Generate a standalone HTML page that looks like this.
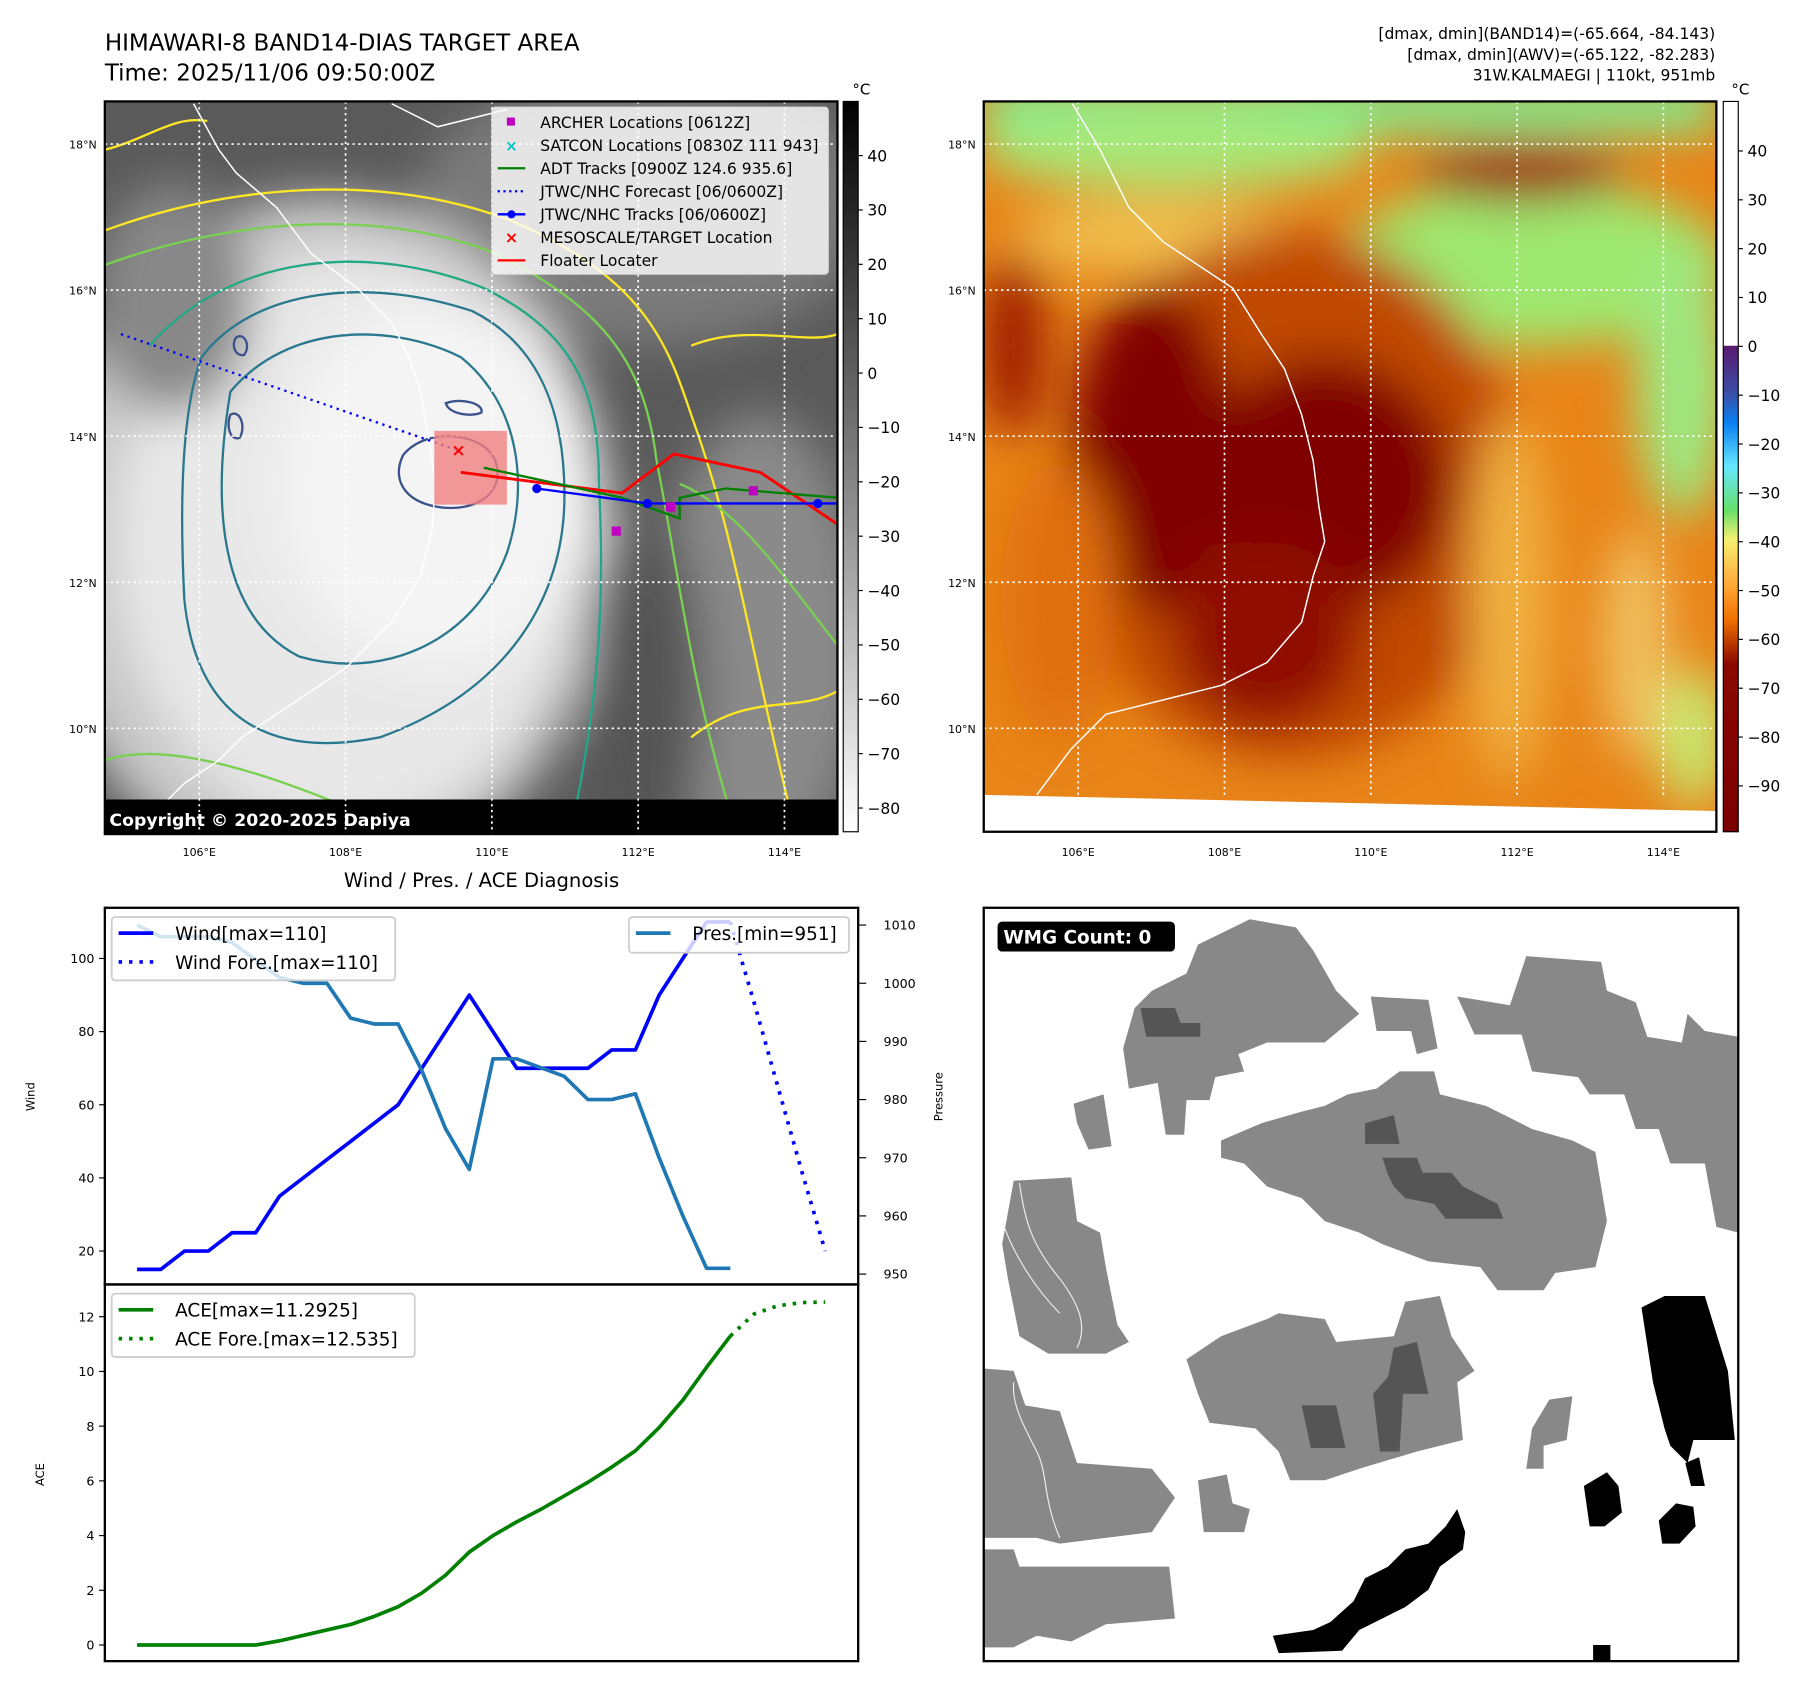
<!DOCTYPE html>
<html><head><meta charset="utf-8"><title>HIMAWARI-8 Band14 DIAS target area, 31W Kalmaegi, 2025/11/06 09:50Z</title>
<style>
html,body{margin:0;padding:0;background:#fff;}
svg{display:block;font-family:"DejaVu Sans","Liberation Sans",sans-serif;}
</style></head>
<body>
<svg id="root" width="1797" height="1690" viewBox="0 0 1560 1467" xmlns="http://www.w3.org/2000/svg">
<defs>
 <filter id="blur8" x="-20%" y="-20%" width="140%" height="140%"><feGaussianBlur stdDeviation="8"/></filter>
 <filter id="blur20" x="-30%" y="-30%" width="160%" height="160%"><feGaussianBlur stdDeviation="20"/></filter>
 <clipPath id="clipL"><rect x="91" y="88" width="636" height="636"/></clipPath>
 <clipPath id="clipR"><rect x="854" y="88" width="636" height="634"/></clipPath>
 <clipPath id="clipW"><rect x="854" y="788" width="655" height="654"/></clipPath>
 <linearGradient id="cbL" x1="0" y1="0" x2="0" y2="1">
  <stop offset="0" stop-color="#000"/><stop offset="1" stop-color="#fff"/>
 </linearGradient>
 <linearGradient id="cbR" x1="0" y1="0" x2="0" y2="1">
  <stop offset="0" stop-color="#fff"/><stop offset="0.334" stop-color="#fff"/>
  <stop offset="0.335" stop-color="#5a1a6e"/><stop offset="0.40" stop-color="#3a4fa8"/>
  <stop offset="0.44" stop-color="#0a80f0"/><stop offset="0.50" stop-color="#66e8ff"/>
  <stop offset="0.56" stop-color="#66e06a"/><stop offset="0.60" stop-color="#f6f070"/>
  <stop offset="0.66" stop-color="#ffab3a"/><stop offset="0.71" stop-color="#f07000"/>
  <stop offset="0.77" stop-color="#8a0800"/><stop offset="1" stop-color="#7a0000"/>
 </linearGradient>
</defs>

<!-- Titles -->
<text x="91" y="44" font-size="20">HIMAWARI-8 BAND14-DIAS TARGET AREA</text>
<text x="91" y="70" font-size="20">Time: 2025/11/06 09:50:00Z</text>
<g font-size="13.5" text-anchor="end">
 <text x="1489" y="34">[dmax, dmin](BAND14)=(-65.664, -84.143)</text>
 <text x="1489" y="52">[dmax, dmin](AWV)=(-65.122, -82.283)</text>
 <text x="1489" y="70">31W.KALMAEGI | 110kt, 951mb</text>
</g>

<!-- LEFT MAP -->
<g clip-path="url(#clipL)">
 <rect x="91" y="88" width="636" height="636" fill="#5a5a5a"/>
 <g filter="url(#blur20)">
  <ellipse cx="560" cy="180" rx="200" ry="120" fill="#7a7a7a"/>
  <ellipse cx="280" cy="470" rx="250" ry="300" fill="#c8c8c8"/>
  <ellipse cx="300" cy="470" rx="200" ry="250" fill="#e8e8e8"/>
  <ellipse cx="380" cy="420" rx="140" ry="160" fill="#f4f4f4"/>
  <ellipse cx="660" cy="560" rx="90" ry="200" fill="#8a8a8a"/>
  <ellipse cx="560" cy="600" rx="50" ry="160" fill="#555"/>
  <ellipse cx="150" cy="260" rx="70" ry="100" fill="#888"/>
 </g>
 <g fill="none" stroke-width="2">
  <path d="M91 200 C200 160 330 150 440 190 C560 240 580 300 600 360 C640 470 650 560 690 720" stroke="#fde725"/>
  <path d="M91 230 C200 190 330 180 430 220 C530 270 560 320 570 400 C590 500 600 600 640 724" stroke="#7ad151"/>
  <path d="M130 300 C200 220 320 210 420 250 C500 290 520 340 520 420 C525 520 520 600 500 700" stroke="#22a884"/>
  <path d="M175 310 C220 250 320 240 410 270 C470 300 490 360 490 430 C490 520 440 600 330 640 C230 660 170 620 160 520 C155 420 160 350 175 310 Z" stroke="#2a788e"/>
  <path d="M200 340 C250 280 340 280 400 310 C450 350 460 420 440 480 C410 560 330 590 260 570 C200 540 180 460 200 340 Z" stroke="#2a788e"/>
  <path d="M350 395 C370 370 420 375 430 400 C440 430 410 445 380 440 C350 435 340 415 350 395 Z" stroke="#3b528b"/>
  <path d="M387 350 C400 345 420 350 418 358 C410 362 390 360 387 350 Z" stroke="#3b528b"/>
  <path d="M205 293 C212 288 218 300 212 308 C205 310 200 300 205 293 Z" stroke="#3b528b"/>
  <path d="M200 360 C208 355 214 370 208 380 C200 383 196 370 200 360 Z" stroke="#3b528b"/>
  <path d="M91 130 C130 120 150 100 180 105" stroke="#fde725"/>
  <path d="M600 300 C650 280 700 300 727 290" stroke="#fde725"/>
  <path d="M590 420 C640 440 680 500 727 560" stroke="#7ad151"/>
  <path d="M600 640 C650 600 690 620 727 600" stroke="#fde725"/>
  <path d="M91 660 C150 640 250 680 300 700" stroke="#7ad151"/>
 </g>
 <g fill="none" stroke="#fff" stroke-width="1.3">
  <path d="M168 90 L190 130 L205 150 L240 180 L270 220 L310 250 L340 280 L355 310 L365 340 L372 380 L378 420 L375 460 L365 500 L340 540 L320 560 L300 580 L270 600 L240 620 L210 640 L190 660 L160 680 L140 700"/>
  <path d="M340 90 L380 110 L420 100 L440 95"/>
 </g>
 <rect x="91" y="694" width="636" height="30" fill="#000"/>
</g>
<text x="95" y="717" font-size="15" font-weight="bold" fill="#fff">Copyright © 2020-2025 Dapiya</text>
<g id="gridL"></g>
<!-- tracks -->
<g>
 <path d="M105 290 L395 390" stroke="#0000ff" stroke-width="2" stroke-dasharray="2,4" fill="none"/>
 <rect x="377" y="374" width="63" height="64" fill="#f08080" opacity="0.8"/>
 <path d="M400 410 L540 428 L585 394 L660 410 L727 455" stroke="#ff0000" stroke-width="2.5" fill="none"/>
 <path d="M420 406 L540 432 L590 450 L590 432 L630 424 L727 432" stroke="#008000" stroke-width="2" fill="none"/>
 <path d="M466 424 L562 437 L727 437" stroke="#0000ff" stroke-width="2" fill="none"/>
 <circle cx="466" cy="424" r="4" fill="#0000ff"/><circle cx="562" cy="437" r="4" fill="#0000ff"/><circle cx="710" cy="437" r="4" fill="#0000ff"/>
 <rect x="531" y="457" width="8" height="8" fill="#c000c0"/><rect x="578" y="436" width="8" height="8" fill="#c000c0"/><rect x="650" y="422" width="8" height="8" fill="#c000c0"/>
 <text x="398" y="396" font-size="15" fill="#ff0000" text-anchor="middle" font-weight="bold">×</text>
</g>
<!-- legend -->
<g font-size="13.5">
 <rect x="427" y="93" width="292" height="145" rx="3" fill="#fff" fill-opacity="0.8" stroke="#ddd"/>
 <rect x="440" y="102" width="7" height="7" fill="#c000c0"/><text x="469" y="111">ARCHER Locations [0612Z]</text>
 <text x="444" y="131" fill="#00bfbf" font-weight="bold" text-anchor="middle" font-size="13">×</text><text x="469" y="131">SATCON Locations [0830Z 111 943]</text>
 <line x1="432" y1="146" x2="456" y2="146" stroke="#008000" stroke-width="2"/><text x="469" y="151">ADT Tracks [0900Z 124.6 935.6]</text>
 <line x1="432" y1="166" x2="456" y2="166" stroke="#0000ff" stroke-width="2" stroke-dasharray="2,3"/><text x="469" y="171">JTWC/NHC Forecast [06/0600Z]</text>
 <line x1="432" y1="186" x2="456" y2="186" stroke="#0000ff" stroke-width="2"/><circle cx="444" cy="186" r="3.5" fill="#0000ff"/><text x="469" y="191">JTWC/NHC Tracks [06/0600Z]</text>
 <text x="444" y="211" fill="#ff0000" font-weight="bold" text-anchor="middle" font-size="14">×</text><text x="469" y="211">MESOSCALE/TARGET Location</text>
 <line x1="432" y1="226" x2="456" y2="226" stroke="#ff0000" stroke-width="2"/><text x="469" y="231">Floater Locater</text>
</g>
<rect x="91" y="88" width="636" height="636" fill="none" stroke="#000" stroke-width="2"/>
<!-- left colorbar -->
<rect x="732" y="88" width="13" height="634" fill="url(#cbL)" stroke="#000" stroke-width="1"/>
<text x="740" y="82" font-size="13">°C</text>
<g id="cbLticks" font-size="13.5"></g>

<!-- RIGHT MAP -->
<g clip-path="url(#clipR)">
 <rect x="854" y="88" width="636" height="634" fill="#e88418"/>
 <g filter="url(#blur20)">
  <rect x="854" y="70" width="636" height="45" fill="#80ec90"/>
  <ellipse cx="1020" cy="130" rx="170" ry="35" fill="#a8e878"/>
  <ellipse cx="1330" cy="230" rx="170" ry="70" fill="#9ee870"/>
  <ellipse cx="1460" cy="330" rx="40" ry="120" fill="#9ee880"/>
  <ellipse cx="1470" cy="640" rx="30" ry="60" fill="#c8e870"/>
  <ellipse cx="1000" cy="205" rx="120" ry="30" fill="#f0c050"/>
  <ellipse cx="1320" cy="150" rx="90" ry="25" fill="#9a1800"/>
  <ellipse cx="1120" cy="430" rx="200" ry="230" fill="#c04800"/>
  <ellipse cx="1000" cy="390" rx="70" ry="140" fill="#800000"/>
  <ellipse cx="1150" cy="420" rx="110" ry="110" fill="#800000"/>
  <ellipse cx="1100" cy="550" rx="80" ry="80" fill="#900800"/>
  <ellipse cx="880" cy="300" rx="30" ry="80" fill="#a02000"/>
  <ellipse cx="1310" cy="520" rx="35" ry="160" fill="#f0b040"/>
  <ellipse cx="1420" cy="560" rx="30" ry="100" fill="#f0c060"/>
  <ellipse cx="920" cy="520" rx="50" ry="120" fill="#e07010"/>
 </g>
 <polygon points="854,690 1490,704 1490,722 854,722" fill="#fff"/>
 <g fill="none" stroke="#fff" stroke-width="1.3">
  <path d="M931 90 L955 130 L980 180 L1010 210 L1040 230 L1070 250 L1095 290 L1115 320 L1130 360 L1140 400 L1145 440 L1150 470 L1140 500 L1130 540 L1100 575 L1060 595 L1000 610 L960 620 L930 650 L900 690"/>
 </g>
</g>
<g id="gridR"></g>
<rect x="854" y="88" width="636" height="634" fill="none" stroke="#000" stroke-width="2"/>
<rect x="1496" y="88" width="13" height="634" fill="url(#cbR)" stroke="#000" stroke-width="1"/>
<text x="1503" y="82" font-size="13">°C</text>
<g id="cbRticks" font-size="13.5"></g>
<g id="geoLabels" font-size="9.5"></g>

<!-- DIAGNOSIS CHART -->
<text x="418" y="770" font-size="17" text-anchor="middle">Wind / Pres. / ACE Diagnosis</text>
<g id="chart"></g>
<text transform="translate(30,952) rotate(-90)" font-size="10" text-anchor="middle">Wind</text>
<text transform="translate(818,952) rotate(-90)" font-size="10" text-anchor="middle">Pressure</text>
<text transform="translate(38,1280) rotate(-90)" font-size="10" text-anchor="middle">ACE</text>

<!-- WMG PANEL -->
<g clip-path="url(#clipW)">
 <rect x="854" y="788" width="655" height="654" fill="#fff"/>
 <g fill="#888">
  <polygon points="1040,820 1085,798 1125,805 1140,825 1160,860 1180,880 1150,905 1100,905 1075,915 1080,930 1055,935 1050,955 1030,955 1028,985 1012,985 1005,940 980,945 975,910 985,875 1000,860 1030,845"/>
  <polygon points="1190,865 1240,868 1248,910 1230,915 1225,895 1195,895"/>
  <polygon points="1265,865 1325,875 1330,898 1280,898"/>
  <polygon points="1325,830 1390,835 1395,860 1420,870 1430,900 1460,905 1465,880 1480,895 1509,900 1509,1070 1490,1065 1480,1010 1450,1010 1440,980 1420,980 1410,950 1380,950 1370,935 1330,930 1320,895 1310,875"/>
  <polygon points="1060,990 1095,975 1130,965 1150,960 1170,950 1195,945 1215,930 1245,930 1250,950 1290,960 1330,980 1365,990 1385,1000 1395,1060 1385,1100 1350,1105 1340,1120 1300,1120 1285,1100 1240,1095 1200,1080 1180,1070 1150,1060 1130,1040 1100,1030 1080,1010 1060,1005"/>
  <polygon points="932,958 958,950 965,995 945,998 935,975"/>
  <polygon points="880,1025 930,1022 935,1060 955,1070 960,1100 970,1150 980,1165 960,1175 910,1175 885,1160 875,1110 870,1080"/>
  <polygon points="1030,1180 1060,1160 1100,1145 1110,1140 1150,1145 1160,1165 1210,1160 1220,1130 1250,1125 1260,1160 1280,1190 1265,1200 1270,1250 1230,1260 1180,1275 1150,1285 1120,1285 1110,1260 1090,1240 1050,1235 1040,1210"/>
  <polygon points="854,1188 880,1190 890,1220 920,1225 935,1270 1000,1275 1020,1300 1000,1330 920,1340 900,1335 854,1335"/>
  <polygon points="1040,1285 1065,1280 1070,1305 1085,1310 1080,1330 1045,1330"/>
  <polygon points="1330,1240 1345,1215 1365,1212 1360,1250 1340,1255 1340,1275 1325,1275"/>
  <polygon points="854,1345 880,1345 885,1360 1015,1360 1020,1405 960,1410 930,1425 900,1420 880,1430 854,1430"/>
 </g>
 <g fill="#555">
  <polygon points="990,875 1020,875 1025,888 1042,888 1042,900 995,900"/>
  <polygon points="1185,975 1210,968 1215,993 1185,993"/>
  <polygon points="1200,1005 1230,1005 1235,1018 1260,1018 1270,1030 1300,1045 1305,1058 1255,1058 1245,1045 1220,1040 1210,1030 1205,1020"/>
  <polygon points="1130,1220 1160,1220 1168,1257 1138,1257"/>
  <polygon points="1210,1170 1230,1165 1240,1210 1218,1210 1215,1260 1198,1260 1192,1210 1205,1195"/>
 </g>
 <g fill="#000">
  <polygon points="1425,1135 1445,1125 1480,1125 1500,1190 1506,1250 1470,1250 1465,1270 1450,1255 1445,1240 1435,1200"/>
  <polygon points="1105,1420 1140,1415 1155,1408 1175,1390 1185,1370 1205,1360 1220,1345 1240,1340 1255,1325 1265,1310 1272,1330 1270,1345 1250,1360 1240,1380 1220,1395 1200,1405 1180,1415 1165,1433 1110,1435"/>
  <polygon points="1375,1290 1395,1278 1405,1290 1408,1313 1393,1325 1380,1325"/>
  <polygon points="1440,1320 1455,1305 1470,1308 1472,1325 1458,1340 1443,1340"/>
  <polygon points="1463,1270 1475,1265 1480,1290 1468,1290"/>
  <polygon points="1383,1428 1398,1428 1398,1442 1383,1442"/>
 </g>
 <g fill="none" stroke="#eee" stroke-width="1">
  <path d="M885 1027 C890 1060 895 1080 920 1110 C935 1130 945 1150 935 1170"/>
  <path d="M870 1060 C880 1090 900 1120 920 1140"/>
  <path d="M880 1200 C878 1220 890 1240 900 1260 C910 1280 905 1300 920 1335"/>
 </g>
</g>
<rect x="854" y="788" width="655" height="654" fill="none" stroke="#000" stroke-width="2"/>
<rect x="866" y="800" width="154" height="26" rx="4" fill="#000"/>
<text x="871" y="819" font-size="16" font-weight="bold" fill="#fff">WMG Count: 0</text>

<script>
// ---- chart data ----
const windActual = [15,15,20,20,25,25,35,40,45,50,55,60,70,80,90,80,70,70,70,70,75,75,90,100,110,110];
const windForecast = [110,88,65,42,20];
const pressure = [1010,1008,1008,1008,1007,1004,1001,1000,1000,994,993,993,985,975,968,987,987,985.5,984,980,980,981,970,960,951,951];
const aceActual = [0,0,0,0,0,0,0.15,0.35,0.55,0.75,1.05,1.4,1.9,2.55,3.4,4.0,4.5,4.95,5.45,5.95,6.5,7.1,7.95,8.95,10.15,11.2925];
const aceForecast = [11.2925,12.1,12.4,12.52,12.535];
const windTicks = [20,40,60,80,100];
const presTicks = [950,960,970,980,990,1000,1010];
const aceTicks = [0,2,4,6,8,10,12];
const cbLeftTicks = [40,30,20,10,0,-10,-20,-30,-40,-50,-60,-70,-80];
const cbRightTicks = [40,30,20,10,0,-10,-20,-30,-40,-50,-60,-70,-80,-90];
const latTicks = [18,16,14,12,10];
const lonTicks = [106,108,110,112,114];

const NS = 'http://www.w3.org/2000/svg';
function mk(parent, tag, attrs){ const e=document.createElementNS(NS,tag); for(const k in attrs) e.setAttribute(k,attrs[k]); parent.appendChild(e); return e; }
// axis functions
const xIdx = i => 119 + i*20.6;
const yWind = v => 832 + (100 - v)*3.175;
const yPres = p => 803 + (1010 - p)*5.05;
const yAce = a => 1428 - a*23.75;
const yCbL = v => 135 + (40 - v)*4.72;
const yCbR = v => 131 + (40 - v)*4.24;
const yLat = d => 125 + (18 - d)*63.4;
const xLon = d => 173 + (d - 106)*63.5;

const chart = document.getElementById('chart');
let fr = mk(chart,'rect',{x:91,y:788,width:654,height:327,fill:'none',stroke:'#000','stroke-width':2});


fr = mk(chart,'rect',{x:91,y:1115,width:654,height:327,fill:'none',stroke:'#000','stroke-width':2});



function ticksLeft(vals, yf, name){
  vals.forEach(v=>{
    const y=yf(v);
    mk(chart,'line',{x1:86,y1:y,x2:91,y2:y,stroke:'#000','stroke-width':1});
    const t=mk(chart,'text',{x:82,y:y+4,'font-size':11,'text-anchor':'end'});
    t.textContent=String(v);
    
    
  });
}
ticksLeft(windTicks,yWind,'wind-tick-label');
ticksLeft(aceTicks,yAce,'ace-tick-label');
presTicks.forEach(v=>{
  const y=yPres(v);
  mk(chart,'line',{x1:745,y1:y,x2:752,y2:y,stroke:'#000','stroke-width':1});
  const t=mk(chart,'text',{x:767,y:y+4,'font-size':11});
  t.textContent=String(v);
  
  
});
function line(vals, start, xf, yf, color, dash, name){
  const pts = vals.map((v,i)=>xf(i+start).toFixed(1)+','+yf(v).toFixed(1)).join(' ');
  const a={points:pts,fill:'none',stroke:color,'stroke-width':3.2,'stroke-linejoin':'round'};
  if(dash){a['stroke-dasharray']='3,6';}
  const p=mk(chart,'polyline',a);
  
  
}
line(windActual,0,xIdx,yWind,'#0000ff',false,'wind-line');
line(windForecast,windActual.length-1,xIdx,yWind,'#0000ff',true,'wind-forecast-line');
line(pressure,0,xIdx,yPres,'#1f77b4',false,'pressure-line');
line(aceActual,0,xIdx,yAce,'#008000',false,'ace-line');
line(aceForecast,aceActual.length-1,xIdx,yAce,'#008000',true,'ace-forecast-line');

function legend(x,y,w,h,items,name){
  const g=mk(chart,'g',{});
  
  
  mk(g,'rect',{x:x,y:y,width:w,height:h,rx:3,fill:'#fff','fill-opacity':0.8,stroke:'#ccc','stroke-width':1.5});
  items.forEach((it,k)=>{
    const yy=y+14+k*25;
    const a={x1:x+6,y1:yy,x2:x+36,y2:yy,stroke:it.c,'stroke-width':3.2};
    if(it.d) a['stroke-dasharray']='3,6';
    mk(g,'line',a);
    const t=mk(g,'text',{x:x+55,y:yy+6,'font-size':16});
    t.textContent=it.t;
  });
}
legend(97,796,246,55,[{c:'#0000ff',t:'Wind[max=110]'},{c:'#0000ff',d:1,t:'Wind Fore.[max=110]'}],'wind-legend');
legend(546,796,191,31,[{c:'#1f77b4',t:'Pres.[min=951]'}],'pressure-legend');
legend(97,1123,263,55,[{c:'#008000',t:'ACE[max=11.2925]'},{c:'#008000',d:1,t:'ACE Fore.[max=12.535]'}],'ace-legend');

function cbTicks(id, vals, yf, x){
  const g=document.getElementById(id);
  vals.forEach(v=>{
    const y=yf(v);
    mk(g,'line',{x1:x,y1:y,x2:x+4,y2:y,stroke:'#000'});
    const t=mk(g,'text',{x:x+8,y:y+5});
    t.textContent=(v<0?'\u2212'+(-v):String(v));
  });
}
cbTicks('cbLticks',cbLeftTicks,yCbL,745);
cbTicks('cbRticks',cbRightTicks,yCbR,1509);

function grid(id,x0,x1,y0,y1){
  const g=document.getElementById(id);
  latTicks.forEach(d=>{const y=yLat(d); mk(g,'line',{x1:x0,y1:y,x2:x1,y2:y,stroke:'#fff','stroke-width':1.5,'stroke-dasharray':'2,3'});});
  lonTicks.forEach(d=>{const x=xLon(d)+(x0-91); mk(g,'line',{x1:x,y1:y0,x2:x,y2:y1,stroke:'#fff','stroke-width':1.5,'stroke-dasharray':'2,3'});});
}
grid('gridL',91,727,88,724);
grid('gridR',854,1490,88,690);
const gl=document.getElementById('geoLabels');
[0,763].forEach(off=>{
  latTicks.forEach(d=>{const t=mk(gl,'text',{x:84+off,y:yLat(d)+4,'text-anchor':'end'}); t.textContent=d+'°N';});
  lonTicks.forEach(d=>{const t=mk(gl,'text',{x:xLon(d)+off,y:743,'text-anchor':'middle'}); t.textContent=d+'°E';});
});
</script>
</svg>
</body></html>
